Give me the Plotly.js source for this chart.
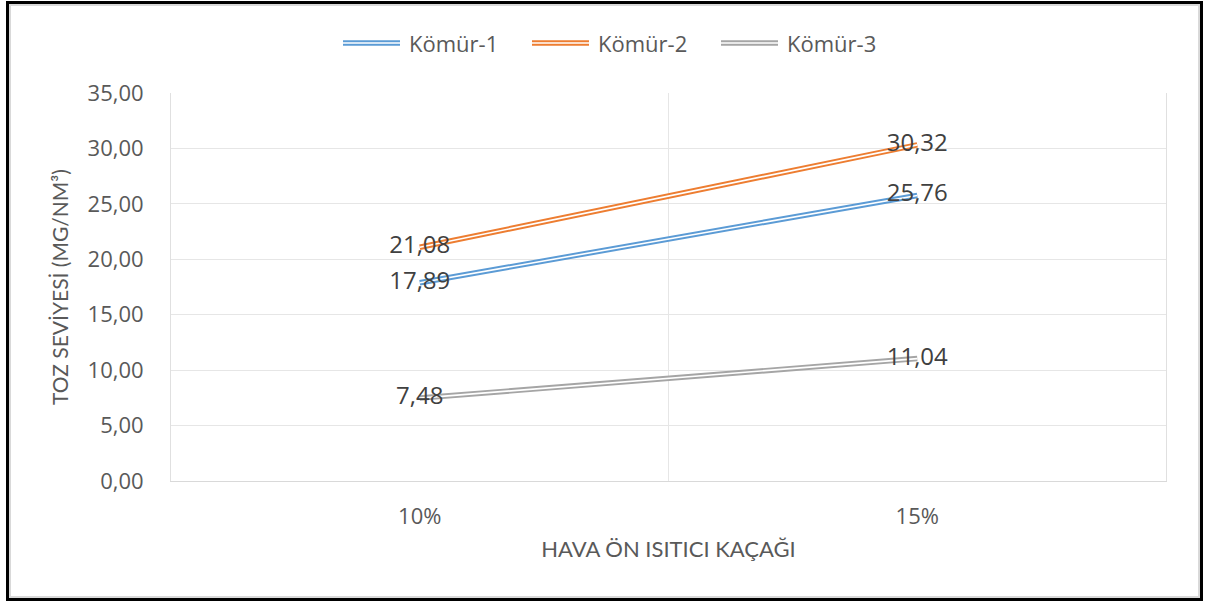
<!DOCTYPE html>
<html>
<head>
<meta charset="utf-8">
<script src="https://cdn.plot.ly/plotly-3.0.1.min.js"></script>
<style>
  html, body { margin: 0; padding: 0; background: #fff; }
  #wrap { position: relative; width: 1211px; height: 601px; }
  #chart { position: absolute; left: 0; top: 0; width: 1211px; height: 601px; }
  #frame {
    position: absolute; left: 6px; top: 1px; width: 1197px; height: 600px;
    box-sizing: border-box; border: 3px solid #000;
    box-shadow: inset 0 0 0 2px #d9d9d9; pointer-events: none;
  }
</style>
</head>
<body>
<div id="wrap">
  <div id="chart"></div>
  <div id="frame"></div>
</div>
<script>
// Air preheater leakage categories and dust levels per coal type
const categories = ['10%', '15%'];
const seriesNames = ['Kömür-1', 'Kömür-2', 'Kömür-3'];
const komur1 = [17.89, 25.76];
const komur2 = [21.08, 30.32];
const komur3 = [7.48, 11.04];
const seriesColors = ['#5B9BD5', '#ED7D31', '#A5A5A5'];
const yTickVals = [0, 5, 10, 15, 20, 25, 30, 35];

const seriesValues = [komur1, komur2, komur3];
const xIdx = categories.map((c, i) => i);
const font = 'Open Sans, Noto Sans, sans-serif';
const titleFont = 'Lato, Open Sans, sans-serif';

// Plot-area geometry (pixels) used to place the legend row in paper units
const W = 1211, H = 601;
const M = { l: 171, r: 45, t: 93, b: 120 };
const plotW = W - M.l - M.r, plotH = H - M.t - M.b;
const px2x = px => (px - M.l) / plotW;
const px2y = py => (H - M.b - py) / plotH;

const OUTER_W = 5.5, INNER_W = 1.6;

const traces = [];
// Coloured outer stroke
seriesValues.forEach((vals, s) => {
  traces.push({
    type: 'scatter', mode: 'lines', name: seriesNames[s], showlegend: false,
    x: xIdx, y: vals,
    line: { color: seriesColors[s], width: OUTER_W },
    hoverinfo: 'skip'
  });
});
// White core gives the double-line look
seriesValues.forEach((vals, s) => {
  traces.push({
    type: 'scatter', mode: 'lines', showlegend: false,
    x: xIdx, y: vals,
    line: { color: '#ffffff', width: INNER_W },
    hoverinfo: 'skip'
  });
});
// Value labels centred on each point
seriesValues.forEach((vals, s) => {
  traces.push({
    type: 'scatter', mode: 'text', showlegend: false,
    x: xIdx, y: vals,
    texttemplate: '%{y:.2f}', textposition: 'middle center',
    textfont: { family: font, size: 24, color: '#404040' },
    hoverinfo: 'skip'
  });
});
// Invisible trace on xaxis2 to carry the category-boundary gridlines
traces.push({
  type: 'scatter', mode: 'lines', showlegend: false, xaxis: 'x2',
  x: [-0.5, 1.5], y: [0, 0], line: { width: 0 }, hoverinfo: 'skip'
});

// Legend row with double-line samples
const legendLeft = 343, legendPitch = 189, sampleW = 57, textGap = 7, legendY = 43;
const shapes = [];
const annotations = [];
seriesNames.forEach((name, s) => {
  const x0 = legendLeft + s * legendPitch;
  [[seriesColors[s], OUTER_W], ['#ffffff', INNER_W]].forEach(([c, w]) => {
    shapes.push({
      type: 'line', xref: 'paper', yref: 'paper',
      x0: px2x(x0), x1: px2x(x0 + sampleW), y0: px2y(legendY), y1: px2y(legendY),
      line: { color: c, width: w }
    });
  });
  annotations.push({
    xref: 'paper', yref: 'paper', x: px2x(x0 + sampleW + textGap), y: px2y(legendY),
    xanchor: 'left', yanchor: 'middle', showarrow: false, text: name,
    font: { family: font, size: 22, color: '#595959' }
  });
});

const layout = {
  width: W, height: H,
  paper_bgcolor: '#ffffff', plot_bgcolor: '#ffffff',
  separators: ',.',
  margin: M,
  font: { family: font, color: '#595959' },
  showlegend: false,
  shapes: shapes,
  annotations: annotations,
  xaxis: {
    range: [-0.5, 1.5], tickvals: xIdx, ticktext: categories,
    showgrid: false, zeroline: false, showline: true, linecolor: '#d9d9d9', linewidth: 1,
    ticks: '', ticklabelstandoff: 16,
    tickfont: { family: font, size: 22, color: '#595959' },
    title: { text: 'HAVA ÖN ISITICI KAÇAĞI', font: { family: titleFont, size: 22, color: '#595959' }, standoff: 12 }
  },
  xaxis2: {
    overlaying: 'x', range: [-0.5, 1.5], tickvals: [-0.5, 0.5, 1.5],
    showticklabels: false, showgrid: true, gridcolor: '#e6e6e6', gridwidth: 1,
    zeroline: false, showline: false, ticks: ''
  },
  yaxis: {
    range: [0, 35], tickvals: yTickVals, tickformat: '.2f',
    showgrid: true, gridcolor: '#e6e6e6', gridwidth: 1,
    zeroline: false, showline: true, linecolor: '#e0e0e0', linewidth: 1, mirror: true,
    ticks: '', ticklabelstandoff: 22,
    tickfont: { family: font, size: 22, color: '#595959' },
    title: { text: 'TOZ SEVİYESİ (MG/NM³)', font: { family: titleFont, size: 21, color: '#595959' }, standoff: 13 }
  }
};

Plotly.newPlot('chart', traces, layout, { staticPlot: true, displayModeBar: false });
</script>
</body>
</html>
